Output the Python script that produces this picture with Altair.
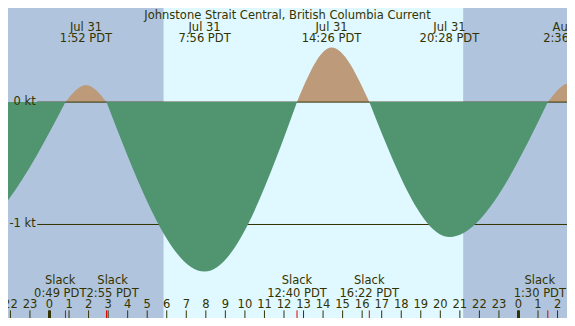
import altair as alt
import pandas as pd

# ---- data (hours since Jul 31 00:00 PDT, knots) ----
slack_hours = [-9.5, 0.8167, 2.9167, 12.6667, 16.3667, 25.5, 27.7]
max_hours = [-4.4, 1.8667, 7.9333, 14.4333, 20.4667, 26.6]
max_kt = [-1.06, 0.14, -1.385, 0.447, -1.103, 0.155]

event_hours = [1.8667, 7.9333, 14.4333, 20.4667, 26.6]
event_dates = ["Jul 31", "Jul 31", "Jul 31", "Jul 31", "Aug 1"]
event_times = ["1:52 PDT", "7:56 PDT", "14:26 PDT", "20:28 PDT", "2:36 PDT"]

slack_label_hours = [0.8167, 2.9167, 12.6667, 16.3667, 25.5]
slack_label_times = ["0:49 PDT", "2:55 PDT", "12:40 PDT", "16:22 PDT", "1:30 PDT"]

night_start = [-3.0, 21.17]
night_end = [5.836, 29.0]

hour_ticks = list(range(-2, 27))
midnight_hours = [0, 24]
level_kt = [0, -1]
level_labels = ["0 kt", "-1 kt"]
title_text = "Johnstone Strait Central, British Columbia Current"

# ---- tables ----
rows = []
for i in range(len(max_hours)):
    kind = "flood" if max_kt[i] > 0 else "ebb"
    for t, v in [(slack_hours[i], 0.0), (max_hours[i], max_kt[i]), (slack_hours[i + 1], 0.0)]:
        rows.append({"t": t, "v": v, "seg": i, "kind": kind})
curve = pd.DataFrame(rows)
events = pd.DataFrame({"t": event_hours, "date": event_dates, "time": event_times})
slacks = pd.DataFrame({"t": slack_label_hours, "time": slack_label_times, "lab": ["Slack"] * 5})
nights = pd.DataFrame({"s": night_start, "e": night_end})
mids = pd.DataFrame({"t": midnight_hours})
hours = pd.DataFrame({"t": hour_ticks, "lab": [str(h % 24) for h in hour_ticks]})
levels = pd.DataFrame({"v": level_kt, "lab": level_labels})

W, H = 559, 310
FONT = "DejaVu Sans"
FS = 11.5
TXT = "#333300"
x_scale = alt.Scale(domain=[-2.124, 26.483], nice=False, zero=False)
y_scale = alt.Scale(domain=[-1.764, 0.769], nice=False, zero=False)


def X(field):
    return alt.X(field, scale=x_scale, axis=None)


def Y(field):
    return alt.Y(field, scale=y_scale, axis=None, stack=None)


def text_mark(**kw):
    return dict(baseline="alphabetic", font=FONT, fontSize=FS, color=TXT, **kw)


night = alt.Chart(nights).mark_rect(color="#b0c4de", clip=True).encode(
    x=X("s:Q"), x2="e:Q", y=alt.value(0), y2=alt.value(H),
)

flood = alt.Chart(curve).transform_filter("datum.kind == 'flood'").mark_area(
    color="#bc9a7a", interpolate="monotone", clip=True).encode(
    x=X("t:Q"), y=Y("v:Q"), y2=alt.datum(0), detail="seg:N",
)

rules = alt.Chart(levels).mark_rule(color=TXT, strokeWidth=1).encode(
    y=Y("v:Q"), x=alt.value(29.2), x2=alt.value(W),
)

ebb = alt.Chart(curve).transform_filter("datum.kind == 'ebb'").mark_area(
    color="#509470", interpolate="monotone", clip=True).encode(
    x=X("t:Q"), y=Y("v:Q"), y2=alt.datum(0), detail="seg:N",
)

level_text = alt.Chart(levels).mark_text(
    align="right", baseline="middle", font=FONT, fontSize=FS, color=TXT).encode(
    y=Y("v:Q"), x=alt.value(27.7), text="lab:N",
)

title = alt.Chart(pd.DataFrame({"lab": [title_text]})).mark_text(
    **text_mark(align="center")).encode(
    x=alt.value(279.5), y=alt.value(11.4), text="lab:N")

ev_date = alt.Chart(events).mark_text(**text_mark(align="center")).encode(
    x=X("t:Q"), y=alt.value(22.8), text="date:N")
ev_time = alt.Chart(events).mark_text(**text_mark(align="center")).encode(
    x=X("t:Q"), y=alt.value(34.2), text="time:N")

# slack labels; crowded ones are nudged apart / kept inside the edge
slack_dx = [-5.2, 6.1, 0, 0, -8]
slack_layers = []
for i, dx in enumerate(slack_dx):
    base = alt.Chart(slacks).transform_filter(f"datum.time == '{slack_label_times[i]}'")
    slack_layers.append(base.mark_text(**text_mark(align="center", dx=dx)).encode(
        x=X("t:Q"), y=alt.value(276.4), text="lab:N"))
    slack_layers.append(base.mark_text(**text_mark(align="center", dx=dx)).encode(
        x=X("t:Q"), y=alt.value(288.5), text="time:N"))

hour_ticks_m = alt.Chart(hours).mark_rule(color=TXT, strokeWidth=1).encode(
    x=X("t:Q"), y=alt.value(H - 7.6), y2=alt.value(H))
hour_labels = alt.Chart(hours).mark_text(**text_mark(align="center")).encode(
    x=X("t:Q"), y=alt.value(300.2), text="lab:N")
red_ticks = alt.Chart(slacks).mark_rule(color="#e00000", strokeWidth=1).encode(
    x=X("t:Q"), y=alt.value(H - 7.6), y2=alt.value(H))
mid_ticks = alt.Chart(mids).mark_rule(color=TXT, strokeWidth=3).encode(
    x=X("t:Q"), y=alt.value(H - 7.6), y2=alt.value(H))

chart = alt.layer(
    night, flood, rules, ebb, level_text, title, ev_date, ev_time,
    *slack_layers, hour_ticks_m, hour_labels, red_ticks, mid_ticks,
).properties(
    width=W, height=H, background="#e0f8ff", padding=0,
    autosize=alt.AutoSizeParams(type="none"),
).configure_view(stroke=None)

chart.save("out.html", embed_options={"renderer": "svg", "actions": False})
